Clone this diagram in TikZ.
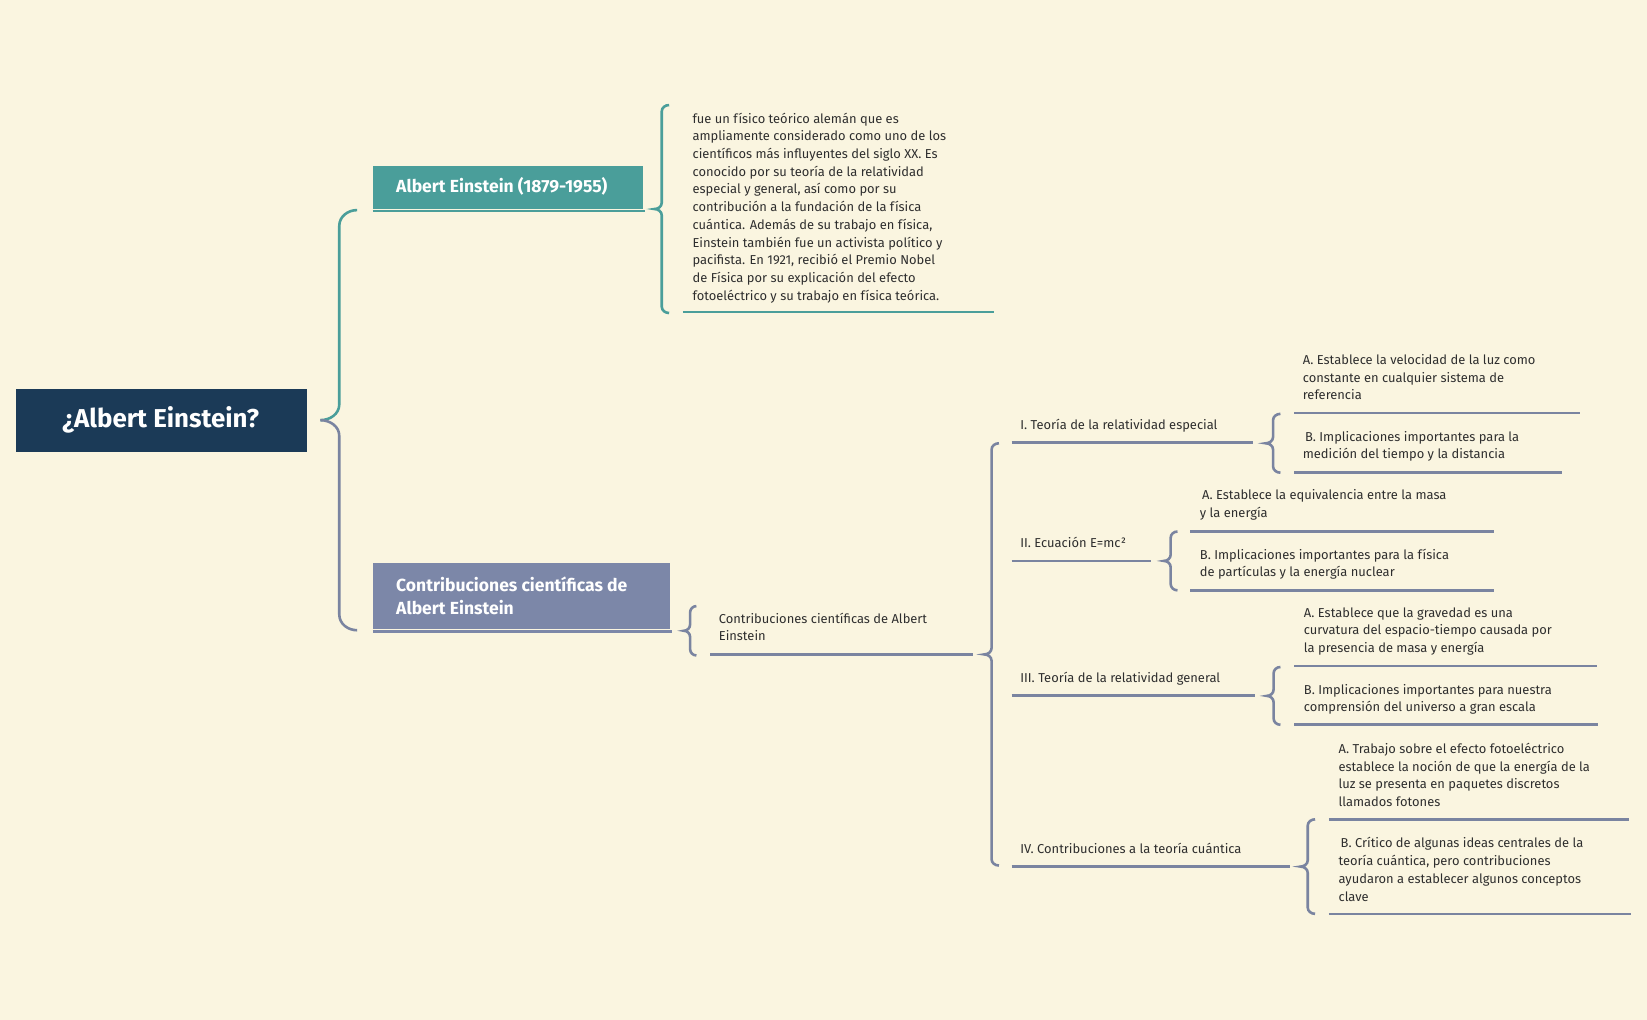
\documentclass[tikz,border=0pt]{standalone}
\usepackage{fontspec}
\setmainfont{Fira Sans}
\definecolor{bg}{HTML}{FAF5E0}
\definecolor{navy}{HTML}{1B3A57}
\definecolor{teal}{HTML}{4A9E9A}
\definecolor{slate}{HTML}{7C87A8}
\definecolor{lgray}{HTML}{7A84A0}
\definecolor{txt}{HTML}{2E2E2E}
\newcommand\cbrace[5][lgray]{%
 \pgfmathsetmacro\bxm{0.5*#2+0.5*#3}%
 \pgfmathsetmacro\bym{0.5*#4+0.5*#5}%
 \pgfmathsetmacro\bya{#4+6}%
 \pgfmathsetmacro\byb{\bym-6}%
 \pgfmathsetmacro\byc{\bym+6}%
 \pgfmathsetmacro\byd{#5-6}%
 \draw[#1,line width=1.4pt] (#3,#4) to[out=180,in=90] (\bxm,\bya) -- (\bxm,\byb) to[out=-90,in=0] (#2,\bym) to[out=0,in=90] (\bxm,\byc) -- (\bxm,\byd) to[out=-90,in=180] (#3,#5);}
\tikzset{
 small/.style={anchor=north west,align=left,text=txt,font=\fontsize{7}{9.6}\selectfont,inner sep=0pt},
 uline/.style={lgray,line width=1.4pt},
}
\begin{document}
\begin{tikzpicture}[x=0.02cm,y=-0.02cm]
\fill[bg] (0,0) rectangle (1568,971);
\useasboundingbox (0,0) rectangle (1568,971);
% root
\fill[navy] (15,370) rectangle (292,430);
\node[text=white,font=\fontsize{14}{16}\bfseries\selectfont] (root) at (153,400) {¿Albert Einstein?};
% root braces
\draw[teal,line width=1.4pt] (340,200) to[out=180,in=90] (323,215) -- (323,385) to[out=-90,in=0] (305,400);
\draw[lgray,line width=1.4pt] (305,400) to[out=0,in=90] (323,415) -- (323,585) to[out=-90,in=180] (340,600);
% Albert Einstein box
\fill[teal] (355,158) rectangle (612,199);
\draw[teal,line width=1.4pt] (355,201) -- (614,201);
\node[text=white,font=\fontsize{9.5}{11}\bfseries\selectfont,anchor=west] (ae) at (371,177) {Albert Einstein (1879-1955)};
\cbrace[teal]{623}{637}{100}{298}
\node[small] (desc) at (659,107) {fue un físico teórico alemán que es\\ampliamente considerado como uno de los\\científicos más influyentes del siglo XX. Es\\conocido por su teoría de la relatividad\\especial y general, así como por su\\contribución a la fundación de la física\\cuántica. Además de su trabajo en física,\\Einstein también fue un activista político y\\pacifista. En 1921, recibió el Premio Nobel\\de Física por su explicación del efecto\\fotoeléctrico y su trabajo en física teórica.};
\draw[teal,line width=1.4pt] (650,297) -- (946,297);
% Contribuciones box
\fill[slate] (355,536) rectangle (638,599);
\draw[slate,line width=1.4pt] (355,601) -- (640,601);
\node[text=white,font=\fontsize{9.5}{12.5}\bfseries\selectfont,anchor=west,align=left] (cc) at (371,567) {Contribuciones científicas de\\Albert Einstein};
\cbrace{651}{663}{577}{624}
\node[small] (cc2) at (684,583) {Contribuciones científicas de Albert\\Einstein};
\draw[uline] (676,623) -- (926,623);
\cbrace{937}{951}{422}{824}
% I
\node[small] (i1) at (971,399) {I. Teoría de la relatividad especial};
\draw[uline] (963,421) -- (1193,421);
\cbrace{1205}{1219}{394}{450}
\node[small] (i1a) at (1240,337) {A. Establece la velocidad de la luz como\\constante en cualquier sistema de\\referencia};
\draw[uline] (1232,393) -- (1504,393);
\node[small] (i1b) at (1240,410) {\,B. Implicaciones importantes para la\\medición del tiempo y la distancia};
\draw[uline] (1232,450) -- (1487,450);
% II
\node[small] (i2) at (971,511) {II. Ecuación E=mc²};
\draw[uline] (963,534) -- (1096,534);
\cbrace{1108}{1121}{506}{562}
\node[small] (i2a) at (1142,466) {\,A. Establece la equivalencia entre la masa\\y la energía};
\draw[uline] (1133,506) -- (1422,506);
\node[small] (i2b) at (1142,522) {B. Implicaciones importantes para la física\\de partículas y la energía nuclear};
\draw[uline] (1133,562) -- (1422,562);
% III
\node[small] (i3) at (971,640) {III. Teoría de la relatividad general};
\draw[uline] (963,662) -- (1195,662);
\cbrace{1206}{1219}{635}{690}
\node[small] (i3a) at (1241,578) {A. Establece que la gravedad es una\\curvatura del espacio-tiempo causada por\\la presencia de masa y energía};
\draw[uline] (1232,634) -- (1520,634);
\node[small] (i3b) at (1241,651) {B. Implicaciones importantes para nuestra\\comprensión del universo a gran escala};
\draw[uline] (1232,690) -- (1521,690);
% IV
\node[small] (i4) at (971,802) {IV. Contribuciones a la teoría cuántica};
\draw[uline] (963,825) -- (1228,825);
\cbrace{1238}{1252}{780}{870}
\node[small] (i4a) at (1274,707) {A. Trabajo sobre el efecto fotoeléctrico\\establece la noción de que la energía de la\\luz se presenta en paquetes discretos\\llamados fotones};
\draw[uline] (1265,780) -- (1551,780);
\node[small] (i4b) at (1274,797) {\,B. Crítico de algunas ideas centrales de la\\teoría cuántica, pero contribuciones\\ayudaron a establecer algunos conceptos\\clave};
\draw[uline] (1265,870) -- (1553,870);
\end{tikzpicture}
\end{document}
